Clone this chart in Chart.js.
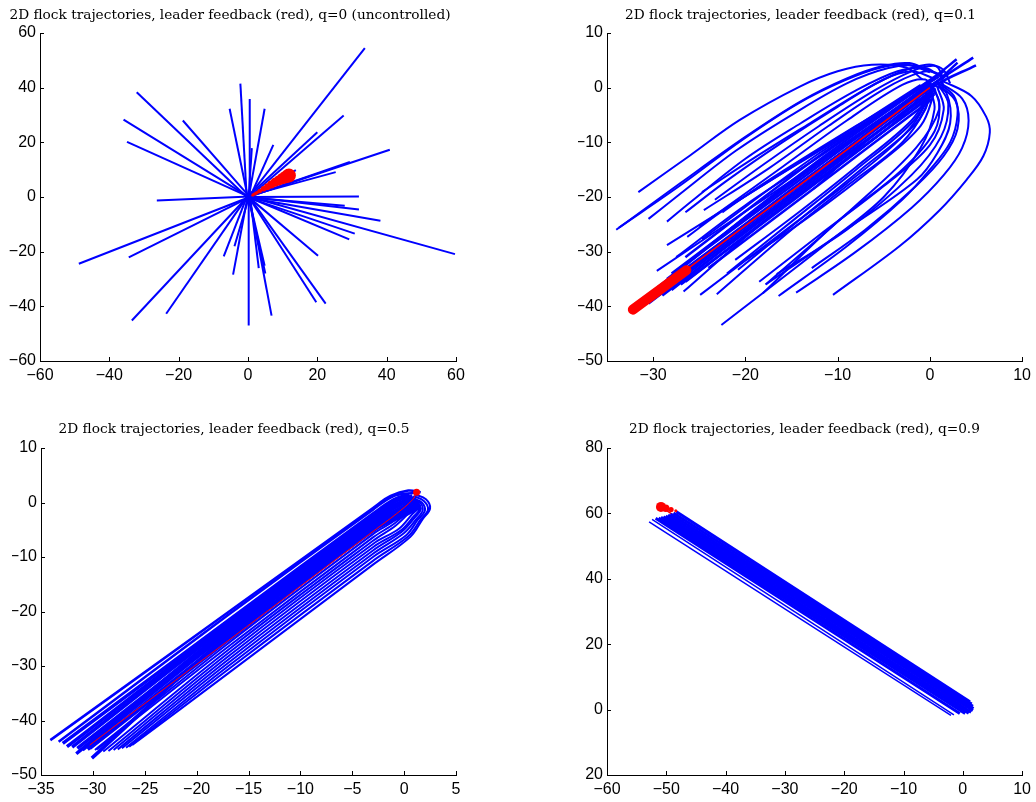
<!DOCTYPE html>
<html>
<head>
<meta charset="utf-8">
<script src="https://cdn.jsdelivr.net/npm/chart.js@4.4.1/dist/chart.umd.min.js"></script>
<style>
  body { margin: 0; background: #fff; width: 1036px; height: 802px; position: relative; overflow: hidden; }
  canvas { position: absolute; }
</style>
</head>
<body>
<canvas id="q0" width="470" height="395" style="left:0px;top:0px"></canvas>
<canvas id="q01" width="465" height="395" style="left:571px;top:0px"></canvas>
<canvas id="q05" width="470" height="402" style="left:0px;top:400px"></canvas>
<canvas id="q09" width="465" height="402" style="left:571px;top:400px"></canvas>
<script>
// ---- tick labels ----
const xTicksQ0 = [-60, -40, -20, 0, 20, 40, 60];
const yTicksQ0 = [-60, -40, -20, 0, 20, 40, 60];
const xTicksQ01 = [-30, -20, -10, 0, 10];
const yTicksQ01 = [-50, -40, -30, -20, -10, 0, 10];
const xTicksQ05 = [-35, -30, -25, -20, -15, -10, -5, 0, 5];
const yTicksQ05 = [-50, -40, -30, -20, -10, 0, 10];
const xTicksQ09 = [-60, -50, -40, -30, -20, -10, 0, 10];
const yTicksQ09 = [-20, 0, 20, 40, 60, 80];

// ---- q=0: straight trajectories out of the origin ----
const spokesQ0 = [
  [[0.3, 0.4], [33.7, 54.5]], [[0.5, 0.2], [27.6, 29.8]], [[0.2, 0.5], [20, 23.7]],
  [[0.6, 0.3], [40.9, 17.3]], [[0.4, 0.1], [29.4, 12.8]], [[0.5, 0.5], [25.3, 9.1]],
  [[0.8, 0.6], [13.8, 9.8]], [[0.2, 0], [32, 0.2]], [[0.3, -0.2], [27.9, -3.2]],
  [[0.5, 0], [32, -4.6]], [[0.1, -0.3], [38.2, -8.7]], [[0.4, -0.4], [30.8, -13.4]],
  [[0.2, -0.1], [29.2, -15.5]], [[0.3, 0.1], [59.7, -20.9]], [[0.6, -0.5], [20.2, -21.5]],
  [[0.1, 0.2], [19.7, -38.5]], [[0.5, -0.2], [22.4, -39]], [[0.3, 0.3], [6.8, -43.4]],
  [[0.2, -0.6], [5, -28]], [[0.6, 0.2], [3.1, -26]], [[0.1, 0.5], [4.8, -25.1]],
  [[0.2, 0.1], [0.2, -47]], [[-0.2, -0.4], [-4.3, -28.4]], [[0.2, -0.3], [-3.9, -18]],
  [[-0.3, 0.2], [-7, -21.7]], [[-0.4, -0.2], [-23.6, -42.7]], [[0, 0.3], [-33.5, -45.2]],
  [[-0.2, -0.5], [-34.4, -22.1]], [[0.3, -0.1], [-48.8, -24.4]], [[0.5, 0.2], [-26.3, -1.3]],
  [[-0.3, 0.4], [-34.9, 20.2]], [[-0.5, 0.6], [-35.9, 28.3]], [[-0.2, -0.2], [-32.1, 38.3]],
  [[0.2, 0.4], [-18.8, 28]], [[-0.1, 0.2], [-5.3, 32.3]], [[-0.4, 0.5], [-2.2, 41.5]],
  [[0.4, 0.3], [0.5, 35.9]], [[0.3, 0.6], [4.8, 32.3]], [[0.2, 0.3], [1.1, 17.9]],
  [[0.7, 0.3], [7.3, 19.1]]
];
const leaderQ0 = [[1.2, 0.6], [2.3, 1.4], [3.4, 2.2], [4.5, 3], [5.6, 3.8], [6.7, 4.6],
  [7.8, 5.4], [8.9, 6.1], [10, 6.8], [11, 7.4], [11.8, 7.9]];

// ---- q=0.1 ----
const upperQ01 = [
  [[-0.8, 1.5], [-2.6, 3.7], [-6.3, 4.2], [-10, 3], [-14.1, 0.2], [-20.6, -5.9], [-26, -12.4], [-31.6, -19.1]],
  [[-0.3, 3.2], [-2.2, 4.5], [-5, 4], [-9, 1.7], [-14, -2.5], [-20, -9], [-27, -17.4], [-34, -26]],
  [[0, 2.8], [-2.4, 4.2], [-5.3, 3.7], [-9.3, 1.3], [-14.3, -2.9], [-20.3, -9.5], [-27, -17.8], [-33.7, -25.6]],
  [[1.5, 1.5], [0.8, 3.8], [-0.4, 4.2], [-3, 3], [-7, -0.3], [-13, -6.5], [-19, -12.8], [-24.7, -19.1]],
  [[2.2, 0.8], [1.5, 3.2], [0.3, 4], [-2, 3], [-6, -0.5], [-12, -7], [-18, -14], [-23.3, -20.5]],
  [[1.5, 0], [1, 2.5], [-1, 2.8], [-5, -0.3], [-11, -7], [-17.5, -14.8], [-24.5, -22.4]],
  [[0.5, -0.5], [-0.5, 1.5], [-3, 0.5], [-9, -6], [-16, -14.5], [-25, -25.4]],
  [[0, 1], [-12, -12], [-24.7, -27.7]],
  [[-1, 0.5], [-14, -13.5], [-28.5, -28.8]],
  [[-0.5, -0.5], [-15, -17], [-29.6, -33.5]],
  [[0.5, 0], [-6, -8.5], [-12.6, -18.5]],
  [[0.5, 1.5], [-10, -9.5], [-22, -22], [-26.3, -27.3]],
  [[1, 2], [-8, -7], [-18, -17.5], [-22.5, -22.8]],
  [[-0.3, 1], [-11, -11.5], [-20, -21.5], [-27.5, -31]],
  [[0.2, 0.8], [-13, -14.8], [-26.3, -32]],
  [[0.8, 2.5], [-1.5, 4], [-4.5, 3.6], [-9, 0.8], [-15, -5], [-21, -11.5], [-27.5, -20], [-30.5, -24]],
  [[1.2, 2], [-0.5, 3.6], [-3.5, 3], [-8, -0.5], [-14, -6.5], [-20, -13], [-26, -21], [-28.5, -24.5]],
  [[0.3, 1.8], [-2, 3], [-5, 1.5], [-10, -3.5], [-16, -10], [-22, -17], [-26.5, -22.8]]
];
const coreQ01 = [
  [[2.9, 5.2], [0.5, 2], [-12, -12.5], [-26.5, -31]],
  [[4.7, 5.5], [0.8, 1.2], [-12, -13.8], [-28, -34]],
  [[5, 4.1], [0.5, 0.3], [-14, -17.5], [-30, -37.5]],
  [[3, 4.6], [0, 0], [-15, -18.6], [-31, -39]],
  [[0.5, 0.5], [-15, -19.5], [-30.5, -39.5]],
  [[-0.5, 0], [-16, -20.2], [-31.5, -40]],
  [[0, -1], [-14, -18.8], [-29, -38]],
  [[0, -1.5], [-13, -18.3], [-27, -36]],
  [[0.3, -2], [-12, -17.7], [-24, -33]],
  [[1.5, 3], [-13, -14.5], [-28.5, -35]],
  [[2, 2.5], [-14, -16], [-29.5, -36.5]],
  [[-0.2, -0.3], [-15, -19], [-30, -38.5]],
  [[0.3, -0.8], [-14, -18.4], [-28, -37]],
  [[0.5, -1.2], [-13, -18], [-26.5, -35.5]],
  [[0, 0.8], [-13, -15.5], [-27.5, -33.5]]
];
const lowerQ01 = [
  [[1.4, 1.2], [4.5, -1.5], [6.1, -5.3], [6.5, -8.2], [5.8, -12.5], [4, -16.8], [1, -22.5], [-3.3, -29], [-10.5, -37.9]],
  [[0.8, 1], [2.6, -1.5], [3, -5], [2.2, -10], [0, -15], [-3, -20.5], [-9, -29], [-16.4, -38.1]],
  [[0.5, 0.5], [1.8, -1], [2.2, -6.5], [0.8, -12], [-1.4, -16.8], [-8.7, -25.5], [-17.8, -36]],
  [[0, 0.5], [1, -2.5], [0.5, -8], [-3, -15], [-10, -24.5], [-18.1, -37.6]],
  [[0, 0], [0.5, -4], [-1, -11], [-5, -20], [-10.8, -28], [-22.6, -43.4]],
  [[-0.5, 0.5], [-0.5, -3], [-3, -9], [-9, -17.5], [-16, -26.5], [-24.9, -37.9]],
  [[-1, 0], [-1.5, -2.5], [-5, -8], [-11, -15.5], [-18, -24.5], [-26.7, -37.3]],
  [[0, -0.5], [-0.5, -4], [-3, -10], [-9, -18], [-15, -26], [-23.1, -37.8]],
  [[0.2, -0.2], [-2, -6], [-8, -14.5], [-14, -22.5], [-21.1, -31.5]],
  [[0.4, -0.4], [-1.5, -6.5], [-7.5, -15], [-14, -24], [-20.8, -33.3]],
  [[0.5, 0], [1, -4], [-1.5, -11], [-8, -21.5], [-17.8, -36]],
  [[0.3, -0.6], [-2, -6.5], [-8, -15], [-15, -24.5], [-22, -34]],
  [[0.6, -0.3], [-1, -7], [-6, -14.5], [-13, -23.5], [-19.9, -31.5]],
  [[0.8, 0.2], [1.5, -4], [0, -10.5], [-5, -18], [-12, -27], [-18.5, -35.5]],
  [[1, 0.4], [2, -3], [1.2, -9], [-2, -16], [-9, -26], [-16.6, -34.1]],
  [[1.2, 0.8], [3.5, -2], [4.2, -6], [3.5, -11], [1.5, -16], [-2, -22], [-8, -30], [-14.5, -37.5]],
  [[0.9, 0.6], [2.8, -2.5], [3, -7.5], [1.5, -12.5], [-1.5, -18], [-7, -26], [-12.8, -33]]
];
const leaderQ01 = [[0, 0], [-16, -20.2], [-32.2, -40.6]];
const leaderTailQ01 = [[-26.4, -33.4], [-32.2, -40.6]];

// ---- q=0.5 ----
const edgeQ05 = [
  [[-34.1, -43.6], [-17, -20.2], [-3, -1.0], [-1.3, 1.2], [0.4, 2.2], [1.6, 1.9]],
  [[-33.3, -43.9], [-17, -20.7], [-3, -1.3], [-1, 1.2], [1, 1.8]]
];
const bandQ05 = [
  [[-32.9, -44.2], [-17, -21.7], [-3, -2.1], [-1, 0.5], [0.5, 1.5]],
  [[-32.5, -44.8], [-17, -22.15], [-3, -2.5], [-0.8, 0.2], [0.8, 1.2]],
  [[-32, -44.9], [-17, -22.6], [-3, -2.9], [-0.6, -0.2], [1, 0.9]],
  [[-31.6, -46.1], [-17, -23.05], [-3, -3.3], [-0.4, -0.5], [1.2, 0.6]],
  [[-31.5, -45.1], [-17, -23.5], [-3, -3.7], [-0.2, -0.9], [1.3, 0.3]],
  [[-31, -45.4], [-17, -23.95], [-3, -4.1], [0, -1.2], [1.4, 0]],
  [[-30.1, -46.9], [-17, -24.4], [-3, -4.5], [0.2, -1.5], [1.5, -0.3]],
  [[-30.5, -45.3], [-17, -24.85], [-3, -4.9], [0.3, -1.8], [1.5, -0.6]],
  [[-30.3, -45.1], [-17, -25.3], [-3, -5.2], [0.4, -2], [1.6, -0.8]]
];
const looseQ05 = [
  [[-29.8, -45.4], [-17, -25.9], [-3, -5.8], [-1, -3.4], [0.2, -1.2], [0.6, 0.1]],
  [[-29.6, -45.3], [-17, -26.5], [-3, -6.4], [-0.9, -3.8], [0.4, -1.5], [0.8, -0.2]],
  [[-29, -45.7], [-17, -27.1], [-3, -7], [-0.8, -4.2], [0.5, -1.8], [1, -0.5]],
  [[-28.5, -45.6], [-17, -27.7], [-3, -7.6], [-0.5, -4.8], [0.7, -2.3], [1.3, -1], [1, 0.2]],
  [[-28, -45.4], [-17, -28.3], [-3, -8.2], [-0.3, -5.1], [0.9, -2.6], [1.5, -1.2], [1.2, 0.1]],
  [[-27.6, -45.3], [-17, -28.9], [-3, -8.8], [-0.2, -5.3], [1, -2.8], [1.6, -1.3], [1.3, 0], [0.3, 0.5]],
  [[-27.2, -45.1], [-17, -29.5], [-3, -9.4], [0, -5.6], [1.2, -3], [1.8, -1.4], [1.5, 0], [0.5, 0.6]],
  [[-26.8, -45], [-17, -30.1], [-3, -10], [0.2, -6], [1.3, -3.2], [2, -1.5], [1.7, 0], [0.8, 0.8]],
  [[-26.5, -44.8], [-17, -30.7], [-3, -10.7], [0.4, -6.2], [1.6, -3.1], [2.3, -1.3], [1.9, 0.3], [0.9, 1.2]],
  [[-26.2, -44.5], [-17, -31.4], [-3, -11.4], [0.6, -6.3], [1.8, -3], [2.5, -1.1], [2.1, 0.6], [1, 1.5]]
];
const leaderQ05 = [[-30.3, -44.5], [-17, -25.4], [-3, -5.3], [-0.7, -2], [0.8, 0.5], [1.2, 1.9]];
const leaderEndQ05 = [[1.2, 1.9]];

// ---- q=0.9 ----
const bandQ09 = [
  [[-48.3, 60.5], [1.2, 2.4]],
  [[-48.8, 60.1], [1.5, 1.7]],
  [[-49.3, 59.8], [1.7, 1.0]],
  [[-49.7, 59.5], [1.8, 0.3]],
  [[-50.1, 59.2], [1.7, -0.3]],
  [[-50.5, 59.0], [1.4, -0.8]],
  [[-50.9, 58.8], [1.0, -1.1]],
  [[-51.3, 58.6], [0.4, -1.2]],
  [[-51.8, 58.5], [-0.5, -1.2]]
];
const looseQ09 = [
  [[-52.4, 58.2], [-1.5, -1.6]],
  [[-52.9, 57.4], [-2, -1.8]]
];
const leaderQ09 = [[-50.9, 62], [0.5, 0.5]];
const leaderStartQ09 = [[-50.9, 62], [-50.1, 61.6], [-49.2, 61.2], [-48.4, 60.8]];

// ---- helpers ----
const pts = a => a.map(([x, y]) => ({ x, y }));
const minus = v => String(v).replace('-', '\u2212');

Chart.defaults.font.family = '"Liberation Sans", Arial, sans-serif';
Chart.defaults.font.size = 16;
Chart.defaults.color = '#000';

// MATLAB style ticks pointing into the axes
const inwardTicks = {
  id: 'inwardTicks',
  afterDraw(chart) {
    const { ctx, chartArea, scales } = chart;
    ctx.save();
    ctx.strokeStyle = '#000';
    ctx.lineWidth = 1;
    scales.x.ticks.forEach(t => {
      const px = Math.round(scales.x.getPixelForValue(t.value)) + 0.5;
      ctx.beginPath();
      ctx.moveTo(px, chartArea.bottom);
      ctx.lineTo(px, chartArea.bottom - 4);
      ctx.stroke();
    });
    scales.y.ticks.forEach(t => {
      const py = Math.round(scales.y.getPixelForValue(t.value)) + 0.5;
      ctx.beginPath();
      ctx.moveTo(chartArea.left, py);
      ctx.lineTo(chartArea.left + 4, py);
      ctx.stroke();
    });
    ctx.restore();
  }
};

function lines(list, opts) {
  return list.map(t => Object.assign({
    data: pts(t), showLine: true, pointRadius: 0, borderColor: '#0000ff',
    borderWidth: 2, tension: 0.35, order: 2
  }, opts || {}));
}

function flockChart(id, o) {
  return new Chart(document.getElementById(id), {
    type: 'scatter',
    data: { datasets: o.datasets },
    options: {
      responsive: false,
      animation: false,
      events: [],
      layout: { padding: { left: o.padLeft, right: o.padRight, top: 0, bottom: 0 } },
      plugins: {
        legend: { display: false },
        tooltip: { enabled: false },
        title: {
          display: true,
          text: o.title,
          color: '#000',
          font: { family: '"DejaVu Serif", serif', size: 13.7, weight: 'normal' },
          padding: { top: o.titleTop, bottom: o.titleBottom }
        }
      },
      scales: {
        x: {
          type: 'linear', min: o.xMin, max: o.xMax,
          border: { display: true, color: '#000', width: 1 },
          grid: { display: false, drawTicks: false },
          ticks: { padding: 5, maxRotation: 0, autoSkip: false, callback: minus },
          afterBuildTicks: s => { s.ticks = o.xTicks.map(v => ({ value: v })); },
          afterFit: s => { s.height = o.xHeight; }
        },
        y: {
          type: 'linear', min: o.yMin, max: o.yMax,
          border: { display: true, color: '#000', width: 1 },
          grid: { display: false, drawTicks: false },
          ticks: { padding: 4, autoSkip: false, callback: minus },
          afterBuildTicks: s => { s.ticks = o.yTicks.map(v => ({ value: v })); },
          afterFit: s => { s.width = o.yWidth; }
        }
      }
    },
    plugins: [inwardTicks]
  });
}

flockChart('q0', {
  title: '2D flock trajectories, leader feedback (red), q=0 (uncontrolled)',
  xMin: -60, xMax: 60, yMin: -60, yMax: 60, xTicks: xTicksQ0, yTicks: yTicksQ0,
  padLeft: 4, padRight: 14, yWidth: 36, xHeight: 34, titleTop: 6.8, titleBottom: 9.8,
  datasets: [
    { data: pts(leaderQ0), showLine: true, borderColor: '#ff0000', borderWidth: 3,
      pointRadius: c => 1 + c.dataIndex * 0.6, pointBackgroundColor: '#ff0000',
      pointBorderWidth: 0, order: 1 },
    ...lines(spokesQ0, { tension: 0 })
  ]
});

flockChart('q01', {
  title: '2D flock trajectories, leader feedback (red), q=0.1',
  xMin: -35, xMax: 10, yMin: -50, yMax: 10, xTicks: xTicksQ01, yTicks: yTicksQ01,
  padLeft: 7, padRight: 13, yWidth: 29, xHeight: 34, titleTop: 6.8, titleBottom: 9.8,
  datasets: [
    { data: pts(leaderQ01), showLine: true, borderColor: '#ff0000', borderWidth: 1.5,
      pointRadius: 0, order: 1 },
    { data: pts(leaderTailQ01), showLine: true, borderColor: '#ff0000', borderWidth: 10,
      borderCapStyle: 'round', pointRadius: 0, order: 1 },
    ...lines(upperQ01),
    ...lines(coreQ01, { borderWidth: 2.5 }),
    ...lines(lowerQ01)
  ]
});

flockChart('q05', {
  title: '2D flock trajectories, leader feedback (red), q=0.5',
  xMin: -35, xMax: 5, yMin: -50, yMax: 10, xTicks: xTicksQ05, yTicks: yTicksQ05,
  padLeft: 12, padRight: 14, yWidth: 29, xHeight: 27, titleTop: 20.8, titleBottom: 10.8,
  datasets: [
    { data: pts(leaderEndQ05), pointRadius: 3.5, pointBackgroundColor: '#ff0000',
      pointBorderWidth: 0, order: 1 },
    { data: pts(leaderQ05), showLine: true, borderColor: '#ff0000', borderWidth: 1,
      tension: 0.35, pointRadius: 0, order: 1 },
    ...lines(edgeQ05, { borderWidth: 2.5 }),
    ...lines(bandQ05, { borderWidth: 3.5 }),
    ...lines(looseQ05)
  ]
});

flockChart('q09', {
  title: '2D flock trajectories, leader feedback (red), q=0.9',
  xMin: -60, xMax: 10, yMin: -20, yMax: 80, xTicks: xTicksQ09, yTicks: yTicksQ09,
  padLeft: 15, padRight: 13, yWidth: 21, xHeight: 27, titleTop: 20.8, titleBottom: 10.8,
  datasets: [
    { data: pts(leaderStartQ09), pointRadius: c => Math.max(5 - c.dataIndex * 1.2, 1.5),
      pointBackgroundColor: '#ff0000', pointBorderWidth: 0, order: 1 },
    ...lines(bandQ09, { borderWidth: 3, tension: 0 }),
    ...lines(looseQ09, { borderWidth: 1.5, tension: 0 }),
    { data: pts(leaderQ09), showLine: true, borderColor: '#ff0000', borderWidth: 1.5,
      pointRadius: 0, order: 3 }
  ]
});
</script>
</body>
</html>
